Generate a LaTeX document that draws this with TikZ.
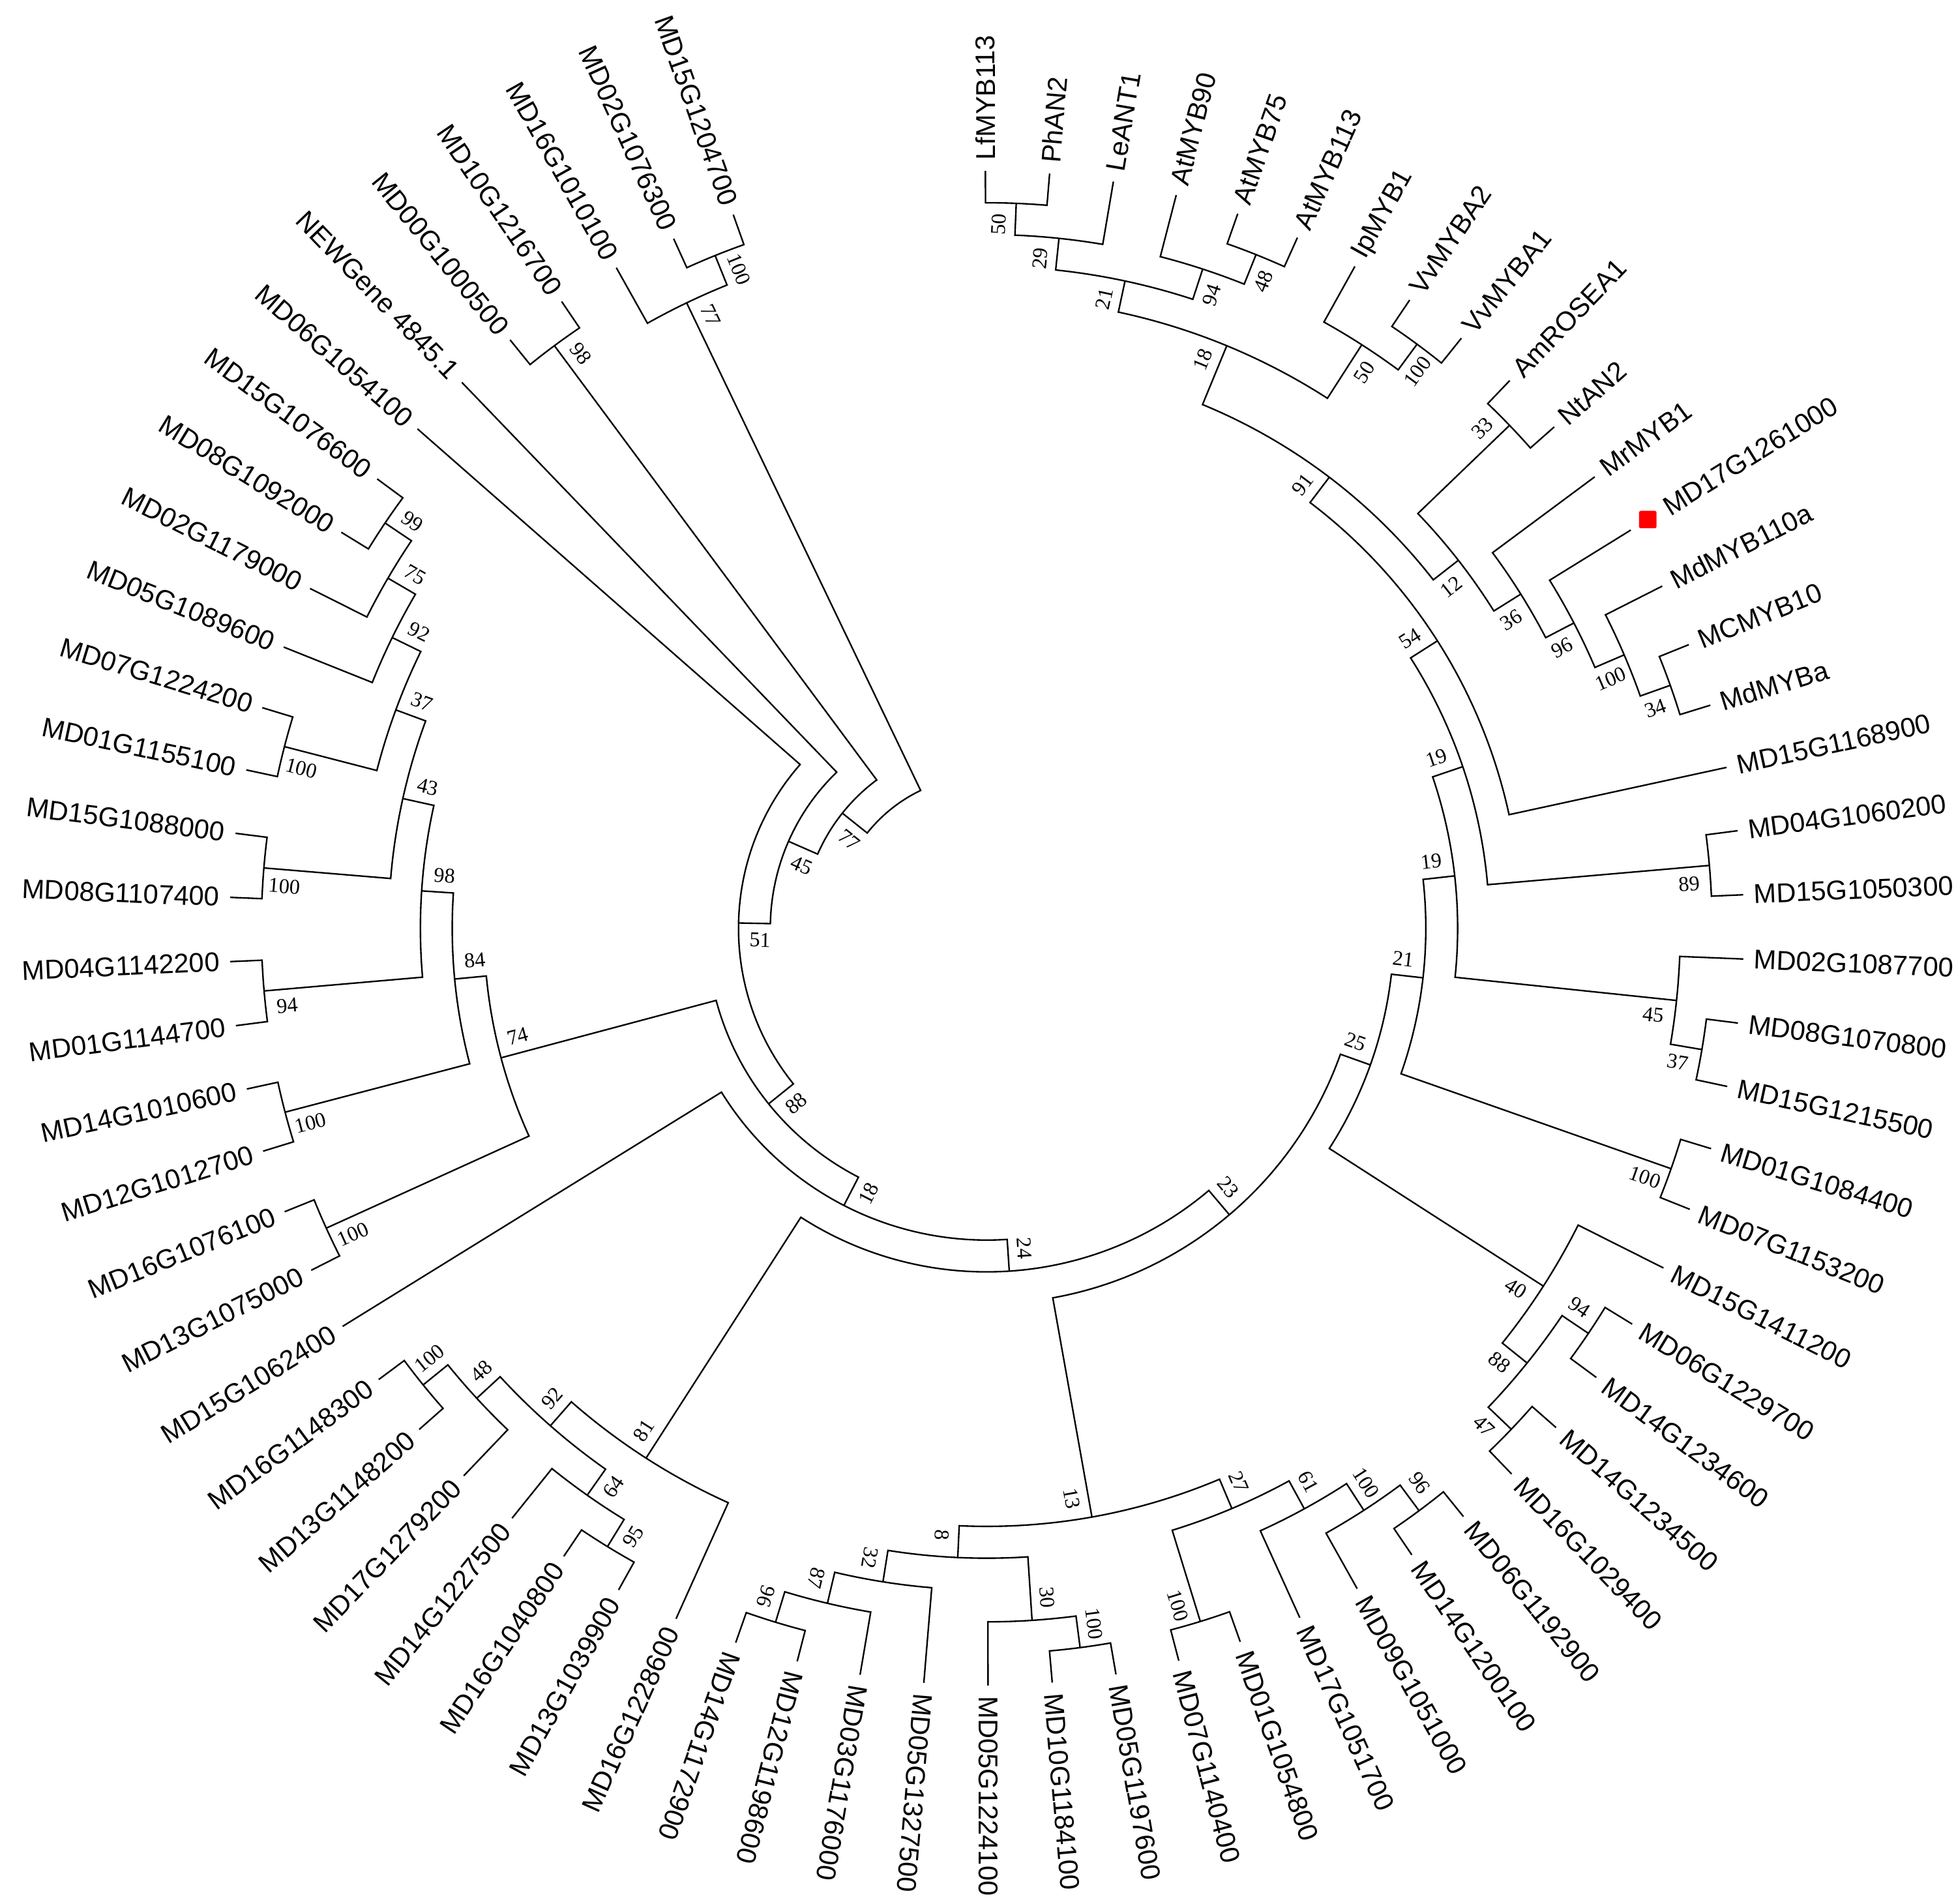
\documentclass[tikz,border=0pt]{standalone}
\usepackage{fontspec}
\setmainfont{Liberation Sans}
\newfontfamily\bsfont{Liberation Serif}

\tikzset{
  branch/.style={line width=0.35pt},
  leaflbl/.style={font=\fontsize{6.2}{7}\selectfont, inner ysep=0pt},
  bslbl/.style={font=\bsfont\fontsize{4.8}{5}\selectfont, inner sep=2pt},
  redmark/.style={fill=red, rectangle, rounded corners=0.4pt, minimum size=0.14cm, inner sep=0pt},
}

% leaf radius and level step (cm)
\newcommand\rleaf{6.07}
\newcommand\rstep{0.255}

% bootstrap value of a child, put on the outer side of its branch
\newcommand\bootlabel[3]{%
  \ifcsname bs@#1\endcsname
    \pgfmathsetmacro\blR{\csname rad@#1\endcsname-0.175}%
    \pgfmathtruncatemacro\blS{((#2>-112)==(#3>0)) ? 1 : 0}%
    \pgfmathsetmacro\blRot{#2>-112 ? #2 : #2+180}%
    \ifnum\blS=1 \def\blAnc{south}\else\def\blAnc{north}\fi
    \node[bslbl, rotate=\blRot, anchor=\blAnc] (bs-#1) at (#2:\blR) {\csname bs@#1\endcsname};%
  \fi
}

% inner node: name, first child, second child, level, bootstrap
\newcommand\treenode[5]{%
  \pgfmathsetmacro\tnA{\csname ang@#2\endcsname}%
  \pgfmathsetmacro\tnB{\csname ang@#3\endcsname}%
  \pgfmathsetmacro\tnM{(\tnA+\tnB)/2}%
  \pgfmathsetmacro\tnR{\rleaf-#4*\rstep}%
  \expandafter\xdef\csname ang@#1\endcsname{\tnM}%
  \expandafter\xdef\csname rad@#1\endcsname{\tnR}%
  \expandafter\xdef\csname bs@#1\endcsname{#5}%
  \coordinate (#1) at (\tnM:\tnR);
  \coordinate (#1-a) at (\tnA:\tnR);
  \coordinate (#1-b) at (\tnB:\tnR);
  \draw[branch] (#2) -- (#1-a) arc[start angle=\tnA, end angle=\tnB, radius=\tnR] -- (#3);
  \bootlabel{#2}{\tnA}{1}%
  \bootlabel{#3}{\tnB}{-1}%
}

\begin{document}
\begin{tikzpicture}
\useasboundingbox (-7.91,-7.82) rectangle (7.77,7.44);

% leaves
\foreach \name [count=\i] in {LfMYB113,PhAN2,LeANT1,AtMYB90,AtMYB75,AtMYB113,IpMYB1,
    VvMYBA2,VvMYBA1,AmROSEA1,NtAN2,MrMYB1,MD17G1261000,MdMYB110a,MCMYB10,MdMYBa,
    MD15G1168900,MD04G1060200,MD15G1050300,MD02G1087700,MD08G1070800,MD15G1215500,
    MD01G1084400,MD07G1153200,MD15G1411200,MD06G1229700,MD14G1234600,MD14G1234500,
    MD16G1029400,MD06G1192900,MD14G1200100,MD09G1051000,MD17G1051700,MD01G1054800,
    MD07G1140400,MD05G1197600,MD10G1184100,MD05G1224100,MD05G1327500,MD03G1176000,
    MD12G1198600,MD14G1172900,MD16G1228600,MD13G1039900,MD16G1040800,MD14G1227500,
    MD17G1279200,MD13G1148200,MD16G1148300,MD15G1062400,MD13G1075000,MD16G1076100,
    MD12G1012700,MD14G1010600,MD01G1144700,MD04G1142200,MD08G1107400,MD15G1088000,
    MD01G1155100,MD07G1224200,MD05G1089600,MD02G1179000,MD08G1092000,MD15G1076600,
    MD06G1054100,NEWGene 4845.1,MD00G1000500,MD10G1216700,MD16G1010100,MD02G1076300,
    MD15G1204700} {
  \pgfmathsetmacro\la{90.1-(\i-1)*4.8649}
  \expandafter\xdef\csname ang@l\i\endcsname{\la}
  \coordinate (l\i) at (\la:\rleaf);
  \pgfmathsetmacro\lgap{\i==13 ? 0.32 : 0.08}
  \ifnum\i<43
    \node[leaflbl, rotate=\la, anchor=west, inner xsep=\lgap cm] (t\i) at (l\i) {\name};
  \else
    \pgfmathsetmacro\lb{\la+180}
    \node[leaflbl, rotate=\lb, anchor=east, inner xsep=\lgap cm] (t\i) at (l\i) {\name};
  \fi
}
\node[redmark] (mark) at (31.72:6.23) {};

% anthocyanin MYB clade
\treenode{pa}{l1}{l2}{1}{50}
\treenode{pb}{pa}{l3}{2}{29}
\treenode{pc}{l5}{l6}{1}{48}
\treenode{pd}{l4}{pc}{2}{94}
\treenode{pe}{pb}{pd}{3}{21}
\treenode{pf}{l8}{l9}{1}{100}
\treenode{pg}{l7}{pf}{2}{50}
\treenode{ph}{pe}{pg}{4}{18}
\treenode{pi}{l10}{l11}{1}{33}
\treenode{pj}{l15}{l16}{1}{34}
\treenode{pk}{l14}{pj}{2}{100}
\treenode{pl}{l13}{pk}{3}{96}
\treenode{pm}{l12}{pl}{4}{36}
\treenode{pn}{pi}{pm}{5}{12}
\treenode{po}{ph}{pn}{6}{91}
\treenode{pp}{po}{l17}{7}{54}
\treenode{pq}{l18}{l19}{1}{89}
\treenode{pr}{pp}{pq}{8}{19}
\treenode{ps}{l21}{l22}{1}{37}
\treenode{pt}{l20}{ps}{2}{45}
\treenode{pu}{pr}{pt}{9}{19}
\treenode{pv}{l23}{l24}{1}{100}
\treenode{pw}{pu}{pv}{10}{21}
\treenode{px}{l26}{l27}{1}{94}
\treenode{py}{l28}{l29}{1}{47}
\treenode{pz}{px}{py}{2}{88}
\treenode{qa}{l25}{pz}{3}{40}
\treenode{qb}{pw}{qa}{11}{25}

% lower part
\treenode{qc}{l30}{l31}{1}{96}
\treenode{qd}{qc}{l32}{2}{100}
\treenode{qe}{qd}{l33}{3}{61}
\treenode{qf}{l34}{l35}{1}{100}
\treenode{qg}{qe}{qf}{4}{27}
\treenode{qh}{l36}{l37}{1}{100}
\treenode{qi}{qh}{l38}{2}{30}
\treenode{qj}{l41}{l42}{1}{96}
\treenode{qk}{l40}{qj}{2}{87}
\treenode{ql}{l39}{qk}{3}{32}
\treenode{qm}{qi}{ql}{4}{8}
\treenode{qn}{qg}{qm}{5}{13}
\treenode{qo}{qb}{qn}{12}{23}
\treenode{qp}{l44}{l45}{1}{95}
\treenode{qq}{qp}{l46}{2}{64}
\treenode{qr}{l48}{l49}{1}{100}
\treenode{qs}{l47}{qr}{2}{48}
\treenode{qt}{qq}{qs}{3}{92}
\treenode{qu}{l43}{qt}{4}{81}
\treenode{qv}{qo}{qu}{13}{24}
\treenode{qw}{qv}{l50}{14}{18}

% left part
\treenode{qx}{l51}{l52}{1}{100}
\treenode{qy}{l53}{l54}{1}{100}
\treenode{qz}{l55}{l56}{1}{94}
\treenode{ra}{l57}{l58}{1}{100}
\treenode{rb}{l59}{l60}{1}{100}
\treenode{rc}{l63}{l64}{1}{99}
\treenode{rd}{l62}{rc}{2}{75}
\treenode{re}{l61}{rd}{3}{92}
\treenode{rf}{rb}{re}{4}{37}
\treenode{rg}{ra}{rf}{5}{43}
\treenode{rh}{qz}{rg}{6}{98}
\treenode{ri}{qy}{rh}{7}{84}
\treenode{rj}{qx}{ri}{8}{74}
\treenode{rk}{qw}{rj}{15}{88}
\treenode{rl}{rk}{l65}{16}{51}
\treenode{rm}{rl}{l66}{17}{45}
\treenode{rn}{l67}{l68}{1}{98}
\treenode{ro}{rm}{rn}{18}{77}
\treenode{rp}{l70}{l71}{1}{100}
\treenode{rq}{l69}{rp}{2}{77}
\treenode{root}{ro}{rq}{19}{}
\end{tikzpicture}
\end{document}
